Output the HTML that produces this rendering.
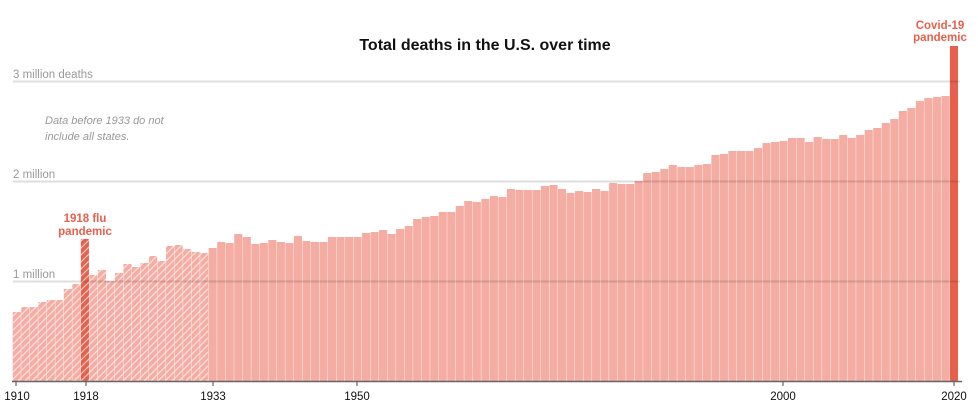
<!DOCTYPE html>
<html><head><meta charset="utf-8"><style>
html,body{margin:0;padding:0;background:#fff;width:978px;height:413px;overflow:hidden}
svg{display:block;font-family:"Liberation Sans",sans-serif}
</style></head><body>
<svg id="c" width="978" height="413" viewBox="0 0 978 413" xmlns="http://www.w3.org/2000/svg">
<defs>
<pattern id="h" patternUnits="userSpaceOnUse" width="7" height="7">
<path d="M-1,1 L1,-1 M0,7 L7,0 M6,8 L8,6" stroke="#fff" stroke-width="1.2" stroke-opacity="0.65"/>
</pattern>
</defs>
<text x="485" y="50" text-anchor="middle" font-size="16" font-weight="bold" fill="#111">Total deaths in the U.S. over time</text>
<g id="bars"></g>
<line x1="13" y1="81.5" x2="960" y2="81.5" stroke="#000" stroke-opacity="0.13" stroke-width="2"/>
<line x1="13" y1="181.5" x2="960" y2="181.5" stroke="#000" stroke-opacity="0.13" stroke-width="2"/>
<line x1="13" y1="281.5" x2="960" y2="281.5" stroke="#000" stroke-opacity="0.13" stroke-width="2"/>
<text x="13" y="78" font-size="11.5" fill="#999">3 million deaths</text>
<text x="13" y="178" font-size="11.5" fill="#999">2 million</text>
<text x="13" y="278" font-size="11.5" fill="#999">1 million</text>
<text x="45" y="124" font-size="11" font-style="italic" fill="#999">Data before 1933 do not</text>
<text x="45" y="140" font-size="11" font-style="italic" fill="#999">include all states.</text>
<text x="85" y="222" text-anchor="middle" font-size="11.5" font-weight="bold" fill="#e8604c">1918 flu</text>
<text x="85" y="235" text-anchor="middle" font-size="11.5" font-weight="bold" fill="#e8604c">pandemic</text>
<text x="940" y="29" text-anchor="middle" font-size="11.5" font-weight="bold" fill="#e8604c">Covid-19</text>
<text x="940" y="41" text-anchor="middle" font-size="11.5" font-weight="bold" fill="#e8604c">pandemic</text>
<line x1="12" y1="381.5" x2="962" y2="381.5" stroke="#666" stroke-width="1.5"/>
<g stroke="#666" stroke-width="1.2">
<line x1="16" y1="381" x2="16" y2="386"/><line x1="86" y1="381" x2="86" y2="386"/>
<line x1="213" y1="381" x2="213" y2="386"/><line x1="357" y1="381" x2="357" y2="386"/>
<line x1="783" y1="381" x2="783" y2="386"/><line x1="954" y1="381" x2="954" y2="386"/>
</g>
<g font-size="11.5" fill="#111" text-anchor="middle">
<text x="17" y="400">1910</text><text x="86" y="400">1918</text><text x="213" y="400">1933</text>
<text x="357" y="400">1950</text><text x="783" y="400">2000</text><text x="954" y="400">2020</text>
</g>
</svg>
<script>
var tops=[312,307,307,302,300,300,289,284,239,275,270,281,273,264,267,263,256,261,246,245,249,252,253,
248,242,243,234,237,244,243,240,242,243,236,241,242,242,237,237,237,237,233,232,230,234,229,226,219,217,216,212,212,206,201,202,199,196,197,189,190,190,190,186,185,189,193,191,192,189,191,183,184,184,181,
173,172,169,165,167,167,165,164,155,154,151,151,151,148,143,142,141,138,138,142,137,139,139,135,138,135,130,128,123,119,111,108,101,98,97,96,46];
var g=document.getElementById('bars'),s='';
for(var i=0;i<tops.length;i++){
 var yr=1910+i,x=12.7+i*8.52,t=tops[i],h=381-t;
 var col=(yr==1918||yr==2020)?'#e8604c':'#f4aca3';
 s+='<rect x="'+x.toFixed(2)+'" y="'+t+'" width="8.1" height="'+h+'" fill="'+col+'"/>';
 if(yr<1933) s+='<rect x="'+x.toFixed(2)+'" y="'+t+'" width="8.1" height="'+h+'" fill="url(#h)"/>';
}
g.innerHTML=s;
</script>
</body></html>
